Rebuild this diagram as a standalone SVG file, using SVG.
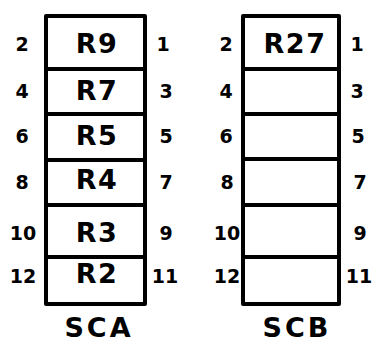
<svg xmlns="http://www.w3.org/2000/svg" width="382" height="351" viewBox="0 0 382 351">
<style>
.box{fill:#fff;stroke:#000;stroke-width:4;stroke-linejoin:round}
text{font-family:"DejaVu Sans","Liberation Sans",sans-serif;font-weight:bold;text-anchor:middle;fill:#000}
.r{font-size:27px;letter-spacing:1.5px}
.n{font-size:19px}
.t{font-size:27px;letter-spacing:3px}
</style>
<rect width="382" height="351" fill="#fff"/>
<g id="SCA">
<rect class="box" x="46" y="16" width="99" height="53"/>
<rect class="box" x="46" y="69" width="99" height="45"/>
<rect class="box" x="46" y="114" width="99" height="46"/>
<rect class="box" x="46" y="160" width="99" height="45"/>
<rect class="box" x="46" y="205" width="99" height="52"/>
<rect class="box" x="46" y="257" width="99" height="47"/>
<text class="r" x="97" y="53">R9</text>
<text class="r" x="97" y="100">R7</text>
<text class="r" x="97" y="145">R5</text>
<text class="r" x="97" y="189">R4</text>
<text class="r" x="97" y="242">R3</text>
<text class="r" x="97" y="283">R2</text>
<text class="n" x="22" y="51">2</text>
<text class="n" x="22" y="98">4</text>
<text class="n" x="22" y="143">6</text>
<text class="n" x="22" y="189">8</text>
<text class="n" x="23" y="240">10</text>
<text class="n" x="23" y="283">12</text>
<text class="n" x="163" y="51">1</text>
<text class="n" x="166" y="98">3</text>
<text class="n" x="166" y="143">5</text>
<text class="n" x="166" y="189">7</text>
<text class="n" x="166" y="240">9</text>
<text class="n" x="165" y="283">11</text>
<text class="t" x="99" y="337">SCA</text>
</g>
<g id="SCB">
<rect class="box" x="243" y="16" width="96" height="53"/>
<rect class="box" x="243" y="69" width="96" height="45"/>
<rect class="box" x="243" y="114" width="96" height="45"/>
<rect class="box" x="243" y="159" width="96" height="46"/>
<rect class="box" x="243" y="205" width="96" height="52"/>
<rect class="box" x="243" y="257" width="96" height="47"/>
<text class="r" x="295" y="53">R27</text>
<text class="n" x="226" y="51">2</text>
<text class="n" x="226" y="98">4</text>
<text class="n" x="226" y="143">6</text>
<text class="n" x="227" y="189">8</text>
<text class="n" x="227" y="240">10</text>
<text class="n" x="227" y="283">12</text>
<text class="n" x="357" y="51">1</text>
<text class="n" x="357" y="98">3</text>
<text class="n" x="358" y="143">5</text>
<text class="n" x="360" y="189">7</text>
<text class="n" x="360" y="240">9</text>
<text class="n" x="359" y="283">11</text>
<text class="t" x="297" y="337">SCB</text>
</g>
<g id="connectors"/>
</svg>
